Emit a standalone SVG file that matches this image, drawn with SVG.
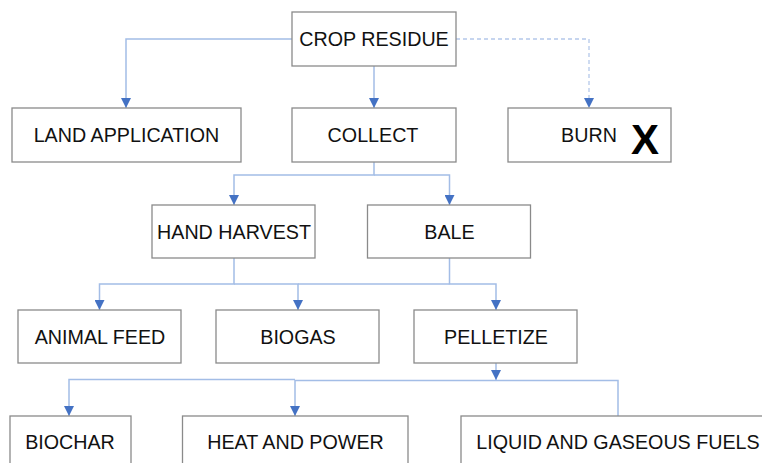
<svg xmlns="http://www.w3.org/2000/svg" width="762" height="463" viewBox="0 0 762 463">
<defs>
<style>
.box{fill:#fff;stroke:#8a8a8a;stroke-width:1.3}
.t{font-family:"Liberation Sans",Arial,sans-serif;font-size:19.7px;fill:#111;text-anchor:middle}
.ln{fill:none;stroke:#a3bde6;stroke-width:1.5}
.dash{fill:none;stroke:#b4c8ea;stroke-width:1.3;stroke-dasharray:4 3}
.ah{fill:#4472c4}
</style>
<marker id="arr" viewBox="0 0 10 10" refX="10" refY="5" markerWidth="10" markerHeight="10" markerUnits="userSpaceOnUse" orient="auto">
<path d="M0,0 L10,5 L0,10 Z" class="ah"/>
</marker>
</defs>
<rect width="762" height="463" fill="#fff"/>
<g id="connectors">
<path class="ln" d="M292,39 H126 V108" marker-end="url(#arr)"/>
<path class="ln" d="M374,66 V108" marker-end="url(#arr)"/>
<path class="dash" d="M456,39 H589 V108" marker-end="url(#arr)"/>
<path class="ln" d="M374,162 V175 H234 V205" marker-end="url(#arr)"/>
<path class="ln" d="M374,175 H449.5 V205" marker-end="url(#arr)"/>
<path class="ln" d="M234,258 V284 H99.5 V310" marker-end="url(#arr)"/>
<path class="ln" d="M234,284 H298 V310" marker-end="url(#arr)"/>
<path class="ln" d="M449.5,258 V284 H496 V310" marker-end="url(#arr)"/>
<path class="ln" d="M298,284 H449.5"/>
<path class="ln" d="M496,363 V380" marker-end="url(#arr)"/>
<path class="ln" d="M618,416 V380.5 H295 V416" marker-end="url(#arr)"/>
<path class="ln" d="M295,379.5 H69 V416" marker-end="url(#arr)"/>
</g>
<g id="crop-residue"><rect class="box" x="292" y="12" width="164" height="54"/><text class="t" x="374" y="46">CROP RESIDUE</text></g>
<g id="land-application"><rect class="box" x="12" y="108" width="229" height="54"/><text class="t" x="126.5" y="142">LAND APPLICATION</text></g>
<g id="collect"><rect class="box" x="292" y="108" width="164" height="54"/><text class="t" x="373" y="142">COLLECT</text></g>
<g id="burn"><rect class="box" x="508" y="108" width="163" height="54"/><text class="t" x="589" y="142">BURN</text><text x="645" y="154" style="font-family:'Liberation Sans',Arial,sans-serif;font-size:42px;font-weight:bold;fill:#000;text-anchor:middle">X</text></g>
<g id="hand-harvest"><rect class="box" x="152" y="205" width="163" height="53"/><text class="t" x="234" y="238.5">HAND HARVEST</text></g>
<g id="bale"><rect class="box" x="367.5" y="205" width="163" height="53"/><text class="t" x="449.5" y="238.5">BALE</text></g>
<g id="animal-feed"><rect class="box" x="18" y="310" width="163" height="53"/><text class="t" x="100" y="343.5">ANIMAL FEED</text></g>
<g id="biogas"><rect class="box" x="216" y="310" width="163" height="53"/><text class="t" x="298" y="343.5">BIOGAS</text></g>
<g id="pelletize"><rect class="box" x="414" y="310" width="163" height="53"/><text class="t" x="496" y="343.5">PELLETIZE</text></g>
<g id="biochar"><rect class="box" x="10" y="416" width="121" height="70"/><text class="t" x="70" y="449">BIOCHAR</text></g>
<g id="heat-and-power"><rect class="box" x="182.5" y="416" width="225.5" height="70"/><text class="t" x="295.5" y="449">HEAT AND POWER</text></g>
<g id="liquid-fuels"><rect class="box" x="461" y="416" width="314" height="70"/><text class="t" x="618" y="449">LIQUID AND GASEOUS FUELS</text></g>
</svg>
